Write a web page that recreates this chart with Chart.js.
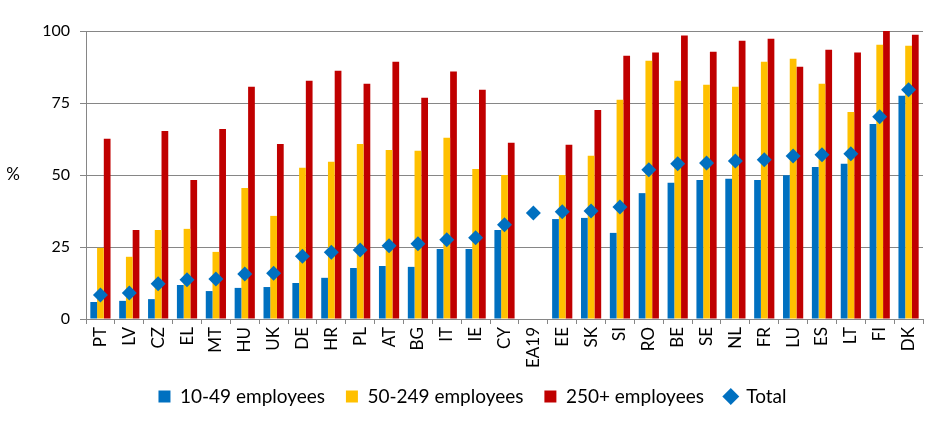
<!DOCTYPE html>
<html>
<head>
<meta charset="utf-8">
<script src="https://cdn.jsdelivr.net/npm/chart.js@4/dist/chart.umd.min.js"></script>
<style>
  body { margin: 0; background: #fff; }
  #wrap { width: 945px; height: 430px; position: relative; }
</style>
</head>
<body>
<div id="wrap"><canvas id="chart"></canvas></div>
<script>
// categorias e valores (%)
const countries = ['PT','LV','CZ','EL','MT','HU','UK','DE','HR','PL','AT','BG','IT','IE','CY','EA19','EE','SK','SI','RO','BE','SE','NL','FR','LU','ES','LT','FI','DK'];
const small = [5.9,6.3,6.9,11.8,9.7,10.8,11.1,12.5,14.3,17.7,18.4,18.1,24.3,24.3,30.9,null,34.7,35.1,29.9,43.7,47.3,48.3,48.7,48.3,49.9,52.8,53.9,67.7,77.5];
const medium = [24.7,21.6,30.9,31.3,23.3,45.5,35.8,52.5,54.6,60.8,58.7,58.4,62.9,52.1,50.0,null,50.0,56.7,76.1,89.7,82.7,81.3,80.6,89.3,90.4,81.7,71.9,95.2,94.9];
const large = [62.6,30.9,65.3,48.3,66.0,80.6,60.8,82.7,86.2,81.7,89.3,76.8,85.9,79.6,61.2,null,60.5,72.6,91.4,92.5,98.4,92.8,96.6,97.3,87.6,93.5,92.5,100,98.7];
const total = [8.3,9.0,12.2,13.6,13.9,15.6,15.9,21.8,23.2,24.0,25.4,26.1,27.5,28.2,32.7,36.8,37.2,37.5,38.9,51.8,53.9,54.2,54.9,55.3,56.6,57.0,57.4,70.2,79.6];
const yTicks = [0, 25, 50, 75, 100];

const FONT = 'Lato, "Open Sans", sans-serif';
const GRID = '#868686';

// texto "%" à esquerda do eixo
const percentLabel = {
    id: 'percentLabel',
    afterDraw(chart) {
        const ctx = chart.ctx;
        ctx.save();
        ctx.font = '17px ' + FONT;
        ctx.fillStyle = '#000';
        ctx.textAlign = 'center';
        ctx.textBaseline = 'middle';
        ctx.fillText('%', 13, 175);
        ctx.restore();
    }
};

const ctx = document.getElementById('chart').getContext('2d');
new Chart(ctx, {
    data: {
        labels: countries,
        datasets: [
            { type: 'line', label: 'Total', data: total, showLine: false,
              pointStyle: 'rectRot', pointRadius: 7.5, pointHoverRadius: 7.5,
              backgroundColor: '#0070C0', borderColor: '#0070C0', pointBorderWidth: 0, order: 0 },
            { type: 'bar', label: '10-49 employees', data: small, backgroundColor: '#0070C0', pointStyle: 'rect', order: 1 },
            { type: 'bar', label: '50-249 employees', data: medium, backgroundColor: '#FFC000', pointStyle: 'rect', order: 1 },
            { type: 'bar', label: '250+ employees', data: large, backgroundColor: '#C00000', pointStyle: 'rect', order: 1 }
        ]
    },
    options: {
        responsive: true,
        maintainAspectRatio: false,
        animation: false,
        datasets: { bar: { categoryPercentage: 0.7, barPercentage: 1.0 } },
        layout: { padding: { top: 31, right: 22, left: 22, bottom: 14 } },
        scales: {
            x: {
                offset: true,
                grid: { offset: true, drawOnChartArea: false, drawTicks: true, tickLength: 5, color: GRID },
                border: { color: GRID },
                ticks: { color: '#000', font: { family: FONT, size: 17 }, minRotation: 90, maxRotation: 90, padding: 3, autoSkip: false },
                afterFit(scale) { scale.height = 52; }
            },
            y: {
                min: 0, max: 100,
                afterBuildTicks(scale) { scale.ticks = yTicks.map(v => ({ value: v })); },
                grid: { color: GRID, tickLength: 6 },
                border: { color: GRID },
                ticks: { color: '#000', font: { family: FONT, size: 16 }, padding: 10 },
                afterFit(scale) { scale.width = 64; }
            }
        },
        plugins: {
            tooltip: { enabled: false },
            legend: {
                position: 'bottom',
                labels: {
                    usePointStyle: true,
                    boxWidth: 12, boxHeight: 12,
                    padding: 16,
                    color: '#000',
                    font: { family: FONT, size: 19 },
                    generateLabels(chart) {
                        const items = Chart.defaults.plugins.legend.labels.generateLabels(chart);
                        items.forEach(it => { if (it.datasetIndex !== 0) it.text += ' '; });
                        return items;
                    },
                    sort: (a, b) => {
                        const rank = i => (i === 0 ? 99 : i);
                        return rank(a.datasetIndex) - rank(b.datasetIndex);
                    }
                }
            }
        }
    },
    plugins: [percentLabel]
});
</script>
</body>
</html>
